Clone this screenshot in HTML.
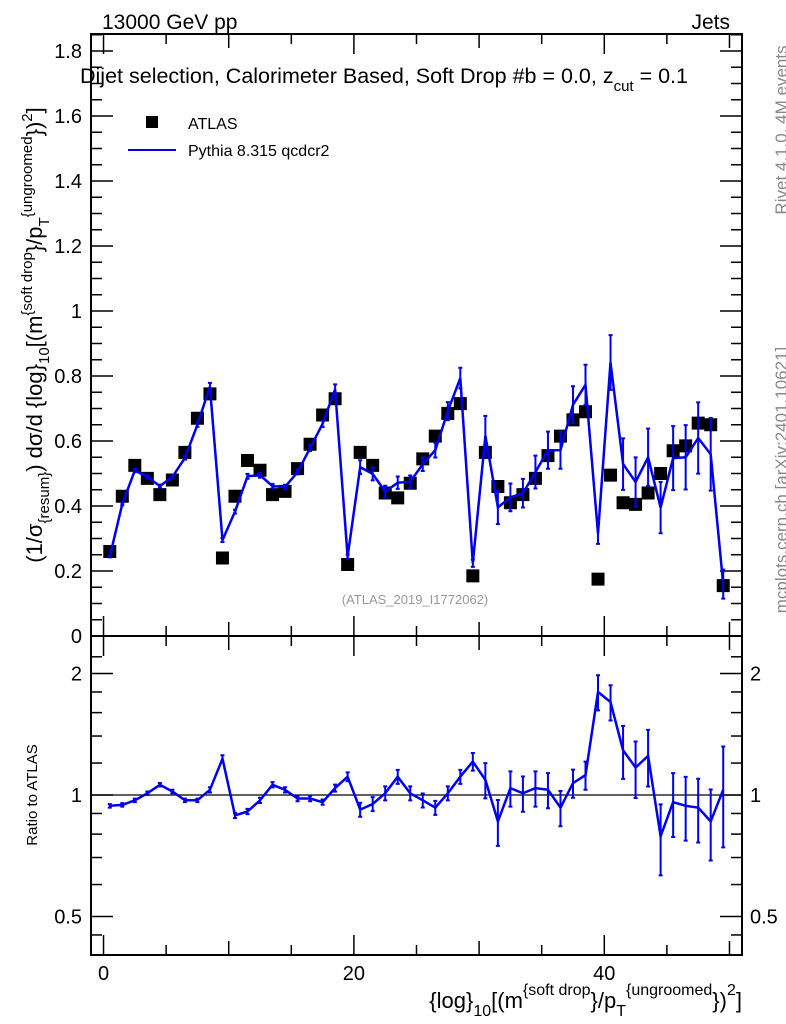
<!DOCTYPE html>
<html><head><meta charset="utf-8">
<style>
html,body{margin:0;padding:0;background:#fff;}
svg{display:block;font-family:"Liberation Sans",sans-serif;}
</style></head>
<body>
<svg id="chart" width="786" height="1024" viewBox="0 0 786 1024" xmlns="http://www.w3.org/2000/svg">
<g id="main"></g>
<g id="ratio"></g>
<text x="102" y="29" font-size="21">13000 GeV pp</text>
<text x="730" y="29" font-size="21" text-anchor="end">Jets</text>
<text x="80" y="83" font-size="21.5">Dijet selection, Calorimeter Based, Soft Drop #b = 0.0, z<tspan font-size="15" dy="8">cut</tspan><tspan dy="-8"> = 0.1</tspan></text>
<g>
<rect x="146" y="116" width="12" height="12" fill="#000"/>
<text x="188" y="129" font-size="16">ATLAS</text>
<line x1="128" y1="150" x2="176" y2="150" stroke="#0000ee" stroke-width="2"/>
<text x="188" y="156" font-size="16">Pythia 8.315 qcdcr2</text>
</g>
<text x="415" y="604" font-size="13" fill="#999" text-anchor="middle">(ATLAS_2019_I1772062)</text>
<text transform="translate(787,130) rotate(-90)" font-size="17" fill="#888" text-anchor="middle">Rivet 4.1.0,  4M events</text>
<text transform="translate(787,480) rotate(-90)" font-size="17" fill="#888" text-anchor="middle">mcplots.cern.ch [arXiv:2401.10621]</text>
<text transform="translate(42,335) rotate(-90)" font-size="22" text-anchor="middle">(1/σ<tspan font-size="15" dy="7">{resum}</tspan><tspan dy="-7">) dσ/d {log}</tspan><tspan font-size="15" dy="7">10</tspan><tspan dy="-7">[(m</tspan><tspan font-size="15" dy="-10">{soft drop</tspan><tspan dy="10">}/p</tspan><tspan font-size="15" dy="7">T</tspan><tspan font-size="15" dy="-17">{ungroomed</tspan><tspan dy="10">})</tspan><tspan font-size="15" dy="-10">2</tspan><tspan dy="10">]</tspan></text>
<text transform="translate(37,795) rotate(-90)" font-size="15" text-anchor="middle">Ratio to ATLAS</text>
<text x="742" y="1008" font-size="22" text-anchor="end">{log}<tspan font-size="16" dy="8">10</tspan><tspan dy="-8">[(m</tspan><tspan font-size="16" dy="-13">{soft drop</tspan><tspan dy="13">}/p</tspan><tspan font-size="16" dy="8">T</tspan><tspan font-size="16" dy="-21">{ungroomed</tspan><tspan dy="13">})</tspan><tspan font-size="16" dy="-13">2</tspan><tspan dy="13">]</tspan></text>
</svg>
<script>
const dataVals=[0.26,0.43,0.525,0.485,0.435,0.48,0.565,0.67,0.745,0.24,0.43,0.54,0.51,0.435,0.445,0.515,0.59,0.68,0.73,0.22,0.565,0.525,0.44,0.425,0.47,0.545,0.615,0.685,0.715,0.185,0.565,0.46,0.41,0.435,0.485,0.555,0.615,0.665,0.69,0.175,0.495,0.41,0.405,0.44,0.5,0.57,0.585,0.655,0.65,0.155];
const ratioVals=[0.94,0.945,0.97,1.01,1.06,1.02,0.97,0.97,1.03,1.23,0.89,0.91,0.97,1.06,1.03,0.98,0.98,0.96,1.04,1.11,0.92,0.95,1.01,1.11,1.01,0.97,0.93,1.01,1.11,1.21,1.09,0.86,1.04,1.01,1.04,1.03,0.93,1.07,1.12,1.80,1.70,1.29,1.17,1.25,0.79,0.96,0.94,0.93,0.86,1.03];
const relErr=[0.01,0.01,0.01,0.01,0.01,0.01,0.01,0.01,0.015,0.02,0.015,0.015,0.015,0.015,0.015,0.015,0.015,0.015,0.02,0.025,0.04,0.04,0.04,0.04,0.04,0.04,0.04,0.04,0.04,0.05,0.1,0.13,0.1,0.1,0.1,0.1,0.1,0.08,0.08,0.1,0.1,0.15,0.16,0.16,0.2,0.18,0.18,0.18,0.2,0.28];
const xTickLabels=[0,20,40];
const mainTickLabels=[0,0.2,0.4,0.6,0.8,1,1.2,1.4,1.6,1.8];
const ratioTickLabels=[0.5,1,2];

const NS="http://www.w3.org/2000/svg";
const L=91,R=742,T=34,MB=636,RB=955;
const X=v=>L+(v+1)*(R-L)/52;
const Y=v=>MB-v*325;
const RY=v=>795-Math.log2(v)*121.5;
function mk(tag,attrs,parent){const e=document.createElementNS(NS,tag);for(const k in attrs)e.setAttribute(k,attrs[k]);parent.appendChild(e);return e;}
const main=document.getElementById('main'),ratio=document.getElementById('ratio');

let f=mk('rect',{x:L,y:T,width:R-L,height:MB-T,fill:'none',stroke:'#000','stroke-width':2},main);


f=mk('rect',{x:L,y:MB,width:R-L,height:RB-MB,fill:'none',stroke:'#000','stroke-width':2},ratio);



for(let v=0;v<=50;v+=5){
  const len=v%10===0?(v%20===0?20:14):10;
  for(const [yt,dir] of [[T,1],[MB,-1],[MB,1],[RB,-1]]){
    const t=mk('line',{x1:X(v),x2:X(v),y1:yt,y2:yt+dir*len,stroke:'#000','stroke-width':1.5},(yt<MB||dir<0&&yt===MB)?main:ratio);
    
    
  }
}
xTickLabels.forEach(v=>{
  const t=mk('text',{x:X(v),y:980,'font-size':20,'text-anchor':'middle'},ratio);
  t.textContent=v;
  
  
});
for(let i=0;i<=37;i++){
  const v=i*0.05;const maj=i%4===0;const len=maj?22:11;
  for(const [xx,d] of [[L,1],[R,-1]]){
    const t=mk('line',{x1:xx,x2:xx+d*len,y1:Y(v),y2:Y(v),stroke:'#000','stroke-width':1.5},main);
    
    
  }
}
mainTickLabels.forEach(v=>{
  const t=mk('text',{x:82,y:Y(v)+7,'font-size':20,'text-anchor':'end'},main);
  t.textContent=v;
  
  
});
[0.5,0.6,0.7,0.8,0.9,1,2].forEach(v=>{
  const maj=ratioTickLabels.includes(v);const len=maj?22:11;
  for(const [xx,d] of [[L,1],[R,-1]]){
    const t=mk('line',{x1:xx,x2:xx+d*len,y1:RY(v),y2:RY(v),stroke:'#000','stroke-width':1.5},ratio);
    
    
  }
});
[1.2,1.4,1.6,1.8,2.2,0.45].forEach(v=>{
  for(const [xx,d] of [[L,1],[R,-1]]){
    const t=mk('line',{x1:xx,x2:xx+d*11,y1:RY(v),y2:RY(v),stroke:'#000','stroke-width':1.5},ratio);
    
    
  }
});
ratioTickLabels.forEach(v=>{
  let t=mk('text',{x:82,y:RY(v)+7,'font-size':20,'text-anchor':'end'},ratio);
  t.textContent=v;
  
  
  t=mk('text',{x:750,y:RY(v)+7,'font-size':20},ratio);
  t.textContent=v;
  
  
});
let rl=mk('line',{x1:L,x2:R,y1:RY(1),y2:RY(1),stroke:'#000','stroke-width':1.2},ratio);



const mc=dataVals.map((d,i)=>d*ratioVals[i]);
function drawSeries(vals,yf,parent,name){
  let p='';
  vals.forEach((v,i)=>{p+=(i?'L':'M')+X(i+0.5).toFixed(1)+','+yf(v).toFixed(1);});
  const l=mk('path',{d:p,fill:'none',stroke:'#0000ee','stroke-width':2.5,'stroke-linejoin':'miter'},parent);
  
  
  vals.forEach((v,i)=>{
    const x=X(i+0.5),y1=yf(v*(1+relErr[i])),y2=yf(v*(1-relErr[i]));
    const g=mk('path',{d:`M${x},${y1}L${x},${y2}M${x-2},${y1}L${x+2},${y1}M${x-2},${y2}L${x+2},${y2}`,stroke:'#0000ee','stroke-width':2,fill:'none'},parent);
    
    
  });
}
dataVals.forEach((v,i)=>{
  const r=mk('rect',{x:X(i+0.5)-6.5,y:Y(v)-6.5,width:13,height:13,fill:'#000'},main);
  
  
});
drawSeries(mc,Y,main,'pythia');
drawSeries(ratioVals,RY,ratio,'pythia-ratio');
</script>
</body></html>
